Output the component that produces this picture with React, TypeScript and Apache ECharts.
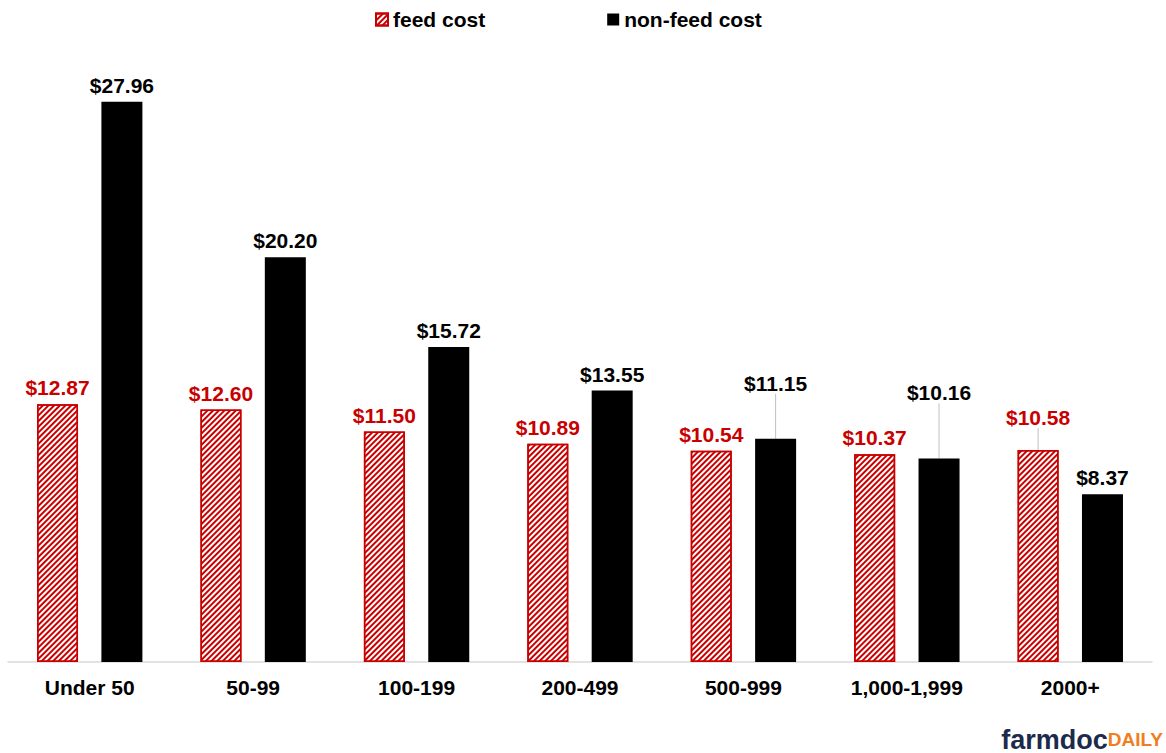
import React, { useEffect, useRef } from "react";
import * as echarts from "echarts";

const categories = ["Under 50", "50-99", "100-199", "200-499", "500-999", "1,000-1,999", "2000+"];
const feedCost = [12.87, 12.6, 11.5, 10.89, 10.54, 10.37, 10.58];
const nonFeedCost = [27.96, 20.2, 15.72, 13.55, 11.15, 10.16, 8.37];
const seriesNames = ["feed cost", "non-feed cost"];

const RED = "#C80000";

export default function App() {
  const ref = useRef<HTMLDivElement>(null);
  useEffect(() => {
    document.body.style.margin = "0";
    const chart = echarts.init(ref.current!, null, { renderer: "svg" });
    const fmt = (p: any) => "$" + Number(p.value).toFixed(2);
    const feedShift: Record<number, number> = { 6: -16 };
    const nonShift: Record<number, number> = { 4: -39, 5: -49 };
    const labelFont = { fontFamily: "Liberation Sans, Arial, sans-serif", fontWeight: "bold" as const, fontSize: 21 };
    chart.setOption({
      animation: false,
      backgroundColor: "#fff",
      legend: {
        left: 370,
        top: 4,
        itemWidth: 12,
        itemHeight: 12,
        itemGap: 122,
        icon: "rect",
        data: seriesNames,
        textStyle: { ...labelFont, color: "#000" },
      },
      grid: { left: 8, right: 14, top: 61, bottom: 91 },
      xAxis: {
        type: "category",
        data: categories,
        axisLine: { lineStyle: { color: "#d9d9d9", width: 1.5 } },
        axisTick: { show: false },
        axisLabel: { ...labelFont, color: "#000", margin: 15 },
      },
      yAxis: { type: "value", min: 0, max: 30, show: false, splitLine: { show: false } },
      series: [
        {
          name: seriesNames[0],
          type: "bar",
          barWidth: 41,
          barGap: "57%",
          data: feedCost.map((v, i) => ({
            value: v,
            labelLine: { show: feedShift[i] !== undefined, lineStyle: { color: "#bfbfbf", width: 1 } },
          })),
          itemStyle: {
            color: "#ffffff",
            borderColor: RED,
            borderWidth: 1.5,
            decal: {
              symbol: "rect",
              symbolSize: 1,
              dashArrayX: [1, 0],
              dashArrayY: [2, 2],
              rotation: -Math.PI / 4,
              color: RED,
            },
          },
          label: { show: true, position: "top", distance: 6, formatter: fmt, color: RED, ...labelFont },
          labelLayout: (p: any) => (feedShift[p.dataIndex] !== undefined ? { dy: feedShift[p.dataIndex] } : {}),
        },
        {
          name: seriesNames[1],
          type: "bar",
          barWidth: 41,
          data: nonFeedCost.map((v, i) => ({
            value: v,
            labelLine: { show: nonShift[i] !== undefined, lineStyle: { color: "#bfbfbf", width: 1 } },
          })),
          itemStyle: { color: "#000000" },
          label: { show: true, position: "top", distance: 6, formatter: fmt, color: "#000", ...labelFont },
          labelLayout: (p: any) => (nonShift[p.dataIndex] !== undefined ? { dy: nonShift[p.dataIndex] } : {}),
        },
      ],
      graphic: [
        {
          type: "text",
          right: 3,
          bottom: 0,
          style: {
            text: "{a|farmdoc}{b|DAILY}",
            rich: {
              a: { fontFamily: "Liberation Sans, Arial, sans-serif", fontWeight: "bold", fontSize: 27, fill: "#1c2b4b" },
              b: { fontFamily: "Liberation Sans, Arial, sans-serif", fontWeight: "bold", fontSize: 19, fill: "#f07d1f" },
            },
          },
        },
      ],
    });
    return () => chart.dispose();
  }, []);
  return <div ref={ref} style={{ width: 1166, height: 753 }} />;
}
